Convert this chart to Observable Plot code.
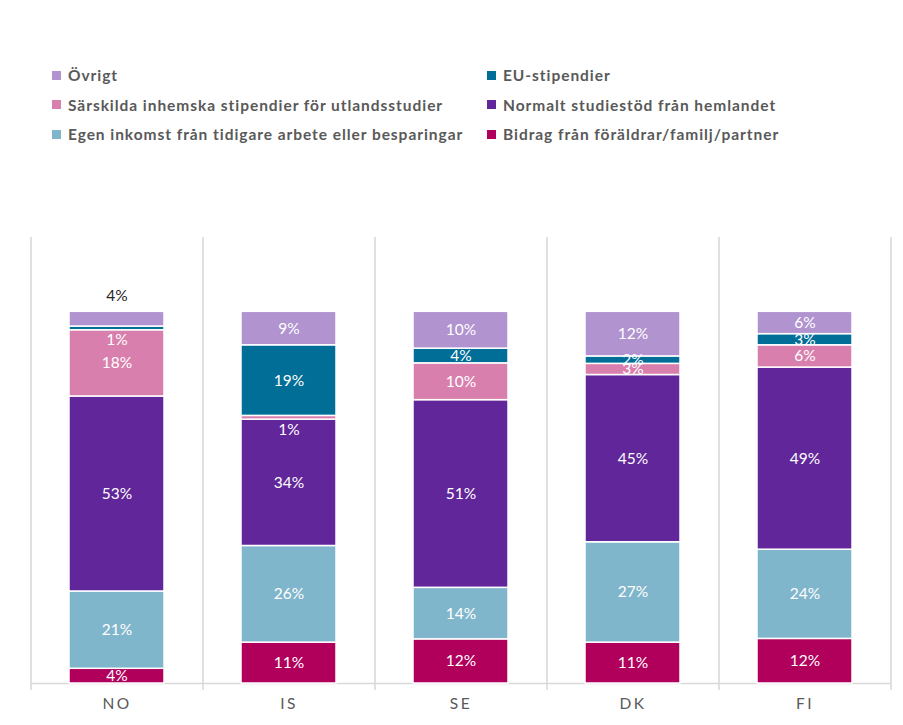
<!DOCTYPE html>
<html>
<head>
<meta charset="utf-8">
<script src="https://cdn.jsdelivr.net/npm/d3@7"></script>
<script src="https://cdn.jsdelivr.net/npm/@observablehq/plot@0.6"></script>
<style>
  body { margin: 0; background: #fff; font-family: Lato, "Open Sans", sans-serif; }
  #wrap { width: 903px; height: 725px; position: relative; overflow: hidden; }
  #legend { position: relative; height: 200px; }
  .item { position: absolute; display: flex; align-items: center; font-weight: bold; font-size: 15.5px; letter-spacing: 0.95px; color: #595959; white-space: nowrap; line-height: 20px; }
  .sw { width: 9px; height: 9px; margin-right: 7px; }
  svg text { font-family: Lato, "Open Sans", sans-serif; }
</style>
</head>
<body>
<div id="wrap"><div id="legend"></div><div id="chart"></div></div>
<script>
const categories = ["NO", "IS", "SE", "DK", "FI"];
const series = [
  "Bidrag från föräldrar/familj/partner",
  "Egen inkomst från tidigare arbete eller besparingar",
  "Normalt studiestöd från hemlandet",
  "Särskilda inhemska stipendier för utlandsstudier",
  "EU-stipendier",
  "Övrigt"
];
const colors = ["#b0005c", "#80b6cb", "#61269a", "#d97fad", "#006e96", "#b093cf"];
const bidrag    = [4, 11, 12, 11, 12];
const egen      = [21, 26, 14, 27, 24];
const normalt   = [53, 34, 51, 45, 49];
const sarskilda = [18, 1, 10, 3, 6];
const eu        = [1, 19, 4, 2, 3];
const ovrigt    = [4, 9, 10, 12, 6];
const valuesBySeries = [bidrag, egen, normalt, sarskilda, eu, ovrigt];

const data = categories.flatMap((c, i) =>
  series.map((s, j) => ({country: c, series: s, value: valuesBySeries[j][i]})));

// labels Excel placed outside the segment centre
const isAbove = d => d.country === "NO" && d.series === "Övrigt";
const isBelow = d => (d.country === "NO" && d.series === "EU-stipendier") ||
                     (d.country === "IS" && d.series === "Särskilda inhemska stipendier för utlandsstudier");
const fmt = d => d.value + "%";

// legend (reverse order, two columns, row-wise)
const legend = document.getElementById("legend");
const legendOrder = series.slice().reverse();
legendOrder.forEach((s, k) => {
  const col = k % 2, row = Math.floor(k / 2);
  const el = document.createElement("div");
  el.className = "item";
  el.style.left = (col ? 487 : 52) + "px";
  el.style.top = (65 + row * 29.5) + "px";
  const sw = document.createElement("div");
  sw.className = "sw";
  sw.style.background = colors[series.indexOf(s)];
  el.appendChild(sw);
  el.appendChild(document.createTextNode(s));
  legend.appendChild(el);
});

const W = 903, mL = 30, mR = 13;
const step = (W - mL - mR) / categories.length;

const stackOpts = {x: "country", y: "value", z: "series", offset: "normalize", order: null};

const plot = Plot.plot({
  width: W,
  height: 525,
  marginTop: 37,
  marginBottom: 42,
  marginLeft: mL,
  marginRight: mR,
  x: {domain: categories, paddingInner: 0.45, paddingOuter: 0.225, label: null},
  y: {domain: [0, 1.2], axis: null},
  color: {domain: series, range: colors},
  style: {fontFamily: "Lato, 'Open Sans', sans-serif", background: "white"},
  marks: [
    Plot.ruleX(categories, {x: d => d, dx: -step / 2, stroke: "#d9d9d9", strokeWidth: 1.6, insetBottom: -7}),
    Plot.ruleX(categories.slice(-1), {x: d => d, dx: step / 2, stroke: "#d9d9d9", strokeWidth: 1.6, insetBottom: -7}),
    Plot.ruleY([0], {stroke: "#d9d9d9", strokeWidth: 1.6}),
    Plot.barY(data, Plot.stackY({...stackOpts, fill: "series", stroke: "white", strokeWidth: 1.5})),
    Plot.text(data, Plot.stackY({...stackOpts, text: d => (isAbove(d) || isBelow(d)) ? null : fmt(d), fill: "white", fontSize: 15.5})),
    Plot.text(data, Plot.stackY({...stackOpts, text: d => isBelow(d) ? fmt(d) : null, fill: "white", fontSize: 15.5, dy: 12})),
    Plot.text(data, Plot.stackY2({...stackOpts, text: d => isAbove(d) ? fmt(d) : null, fill: "#262626", fontSize: 15.5, dy: -16})),
    Plot.axisX({tickSize: 0, tickPadding: 14, fontSize: 15.5, fill: "#595959", label: null})
  ]
});
plot.querySelectorAll("g[aria-label='x-axis tick label'] text").forEach(t => t.setAttribute("letter-spacing", "2.5"));
document.getElementById("chart").appendChild(plot);
</script>
</body>
</html>
